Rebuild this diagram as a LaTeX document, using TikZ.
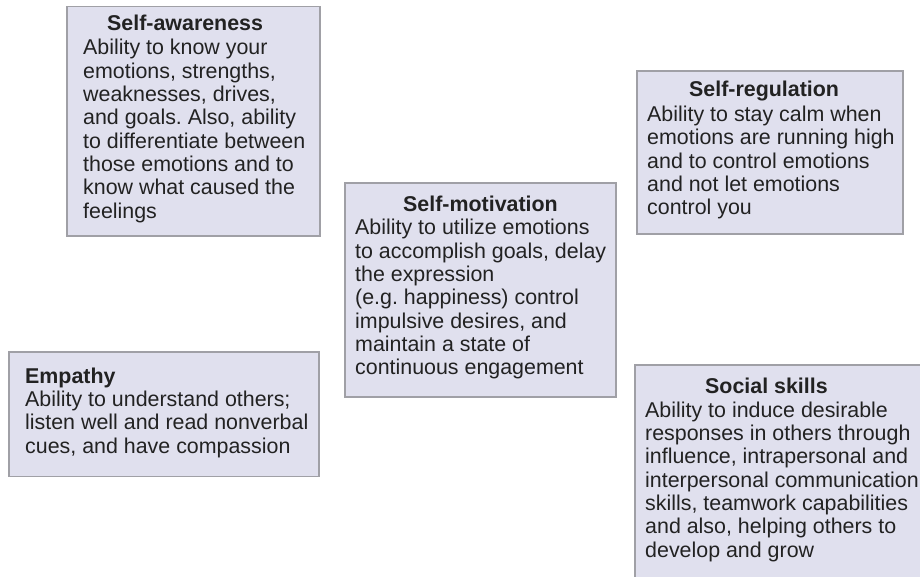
\documentclass[tikz,border=0pt]{standalone}
\usepackage{fontspec}
\setmainfont{Liberation Sans}
\frenchspacing
\definecolor{boxfill}{HTML}{E0E0EE}
\definecolor{boxline}{HTML}{A0A0A6}
\definecolor{txt}{HTML}{222222}
\tikzset{
  box/.style={draw=boxline, fill=boxfill, line width=1.4pt},
  txtnode/.style={anchor=base west, inner sep=0pt, text=txt},
}
\newcommand{\boxtext}[1]{\parbox[t]{300pt}{\frenchspacing\fontsize{21.4pt}{23.3pt}\selectfont\raggedright #1}}
\begin{document}
\begin{tikzpicture}[x=1pt,y=-1pt]
\useasboundingbox (0,0) rectangle (920,577);
\clip (0,0) rectangle (920,577);
% boxes
\path[box] (67,6.5) rectangle (320,236);
\path[box] (637,71) rectangle (903,234);
\path[box] (345,183) rectangle (616,397);
\path[box] (9,352) rectangle (319,476.5);
\path[box] (635,365) rectangle (930,590);
% texts
\node[txtnode] (sa) at (83,31) {\boxtext{\hspace*{24pt}\textbf{Self-awareness}\\[0.7pt]
Ability to know your\\
emotions, strengths,\\
weaknesses, drives,\\
and goals. Also, ability\\
to differentiate between\\
those emotions and to\\
know what caused the\\
feelings}};
\node[txtnode] (sr) at (647,96.7) {\boxtext{\hspace*{42pt}\textbf{Self-regulation}\\[1.7pt]
Ability to stay calm when\\
emotions are running high\\
and to control emotions\\
and not let emotions\\
control you}};
\node[txtnode] (sm) at (355,211.7) {\boxtext{\hspace*{48pt}\textbf{Self-motivation}\\
Ability to utilize emotions\\
to accomplish goals, delay\\
the expression\\
(e.g. happiness) control\\
impulsive desires, and\\
maintain a state of\\
continuous engagement}};
\node[txtnode] (em) at (25,383.3) {\boxtext{\textbf{Empathy}\\
Ability to understand others;\\
listen well and read nonverbal\\
cues, and have compassion}};
\node[txtnode] (ss) at (645,393.3) {\boxtext{\hspace*{60pt}\textbf{Social skills}\\[0.7pt]
Ability to induce desirable\\
responses in others through\\
influence, intrapersonal and\\
interpersonal communication\\
skills, teamwork capabilities\\
and also, helping others to\\
develop and grow}};
\end{tikzpicture}
\end{document}
